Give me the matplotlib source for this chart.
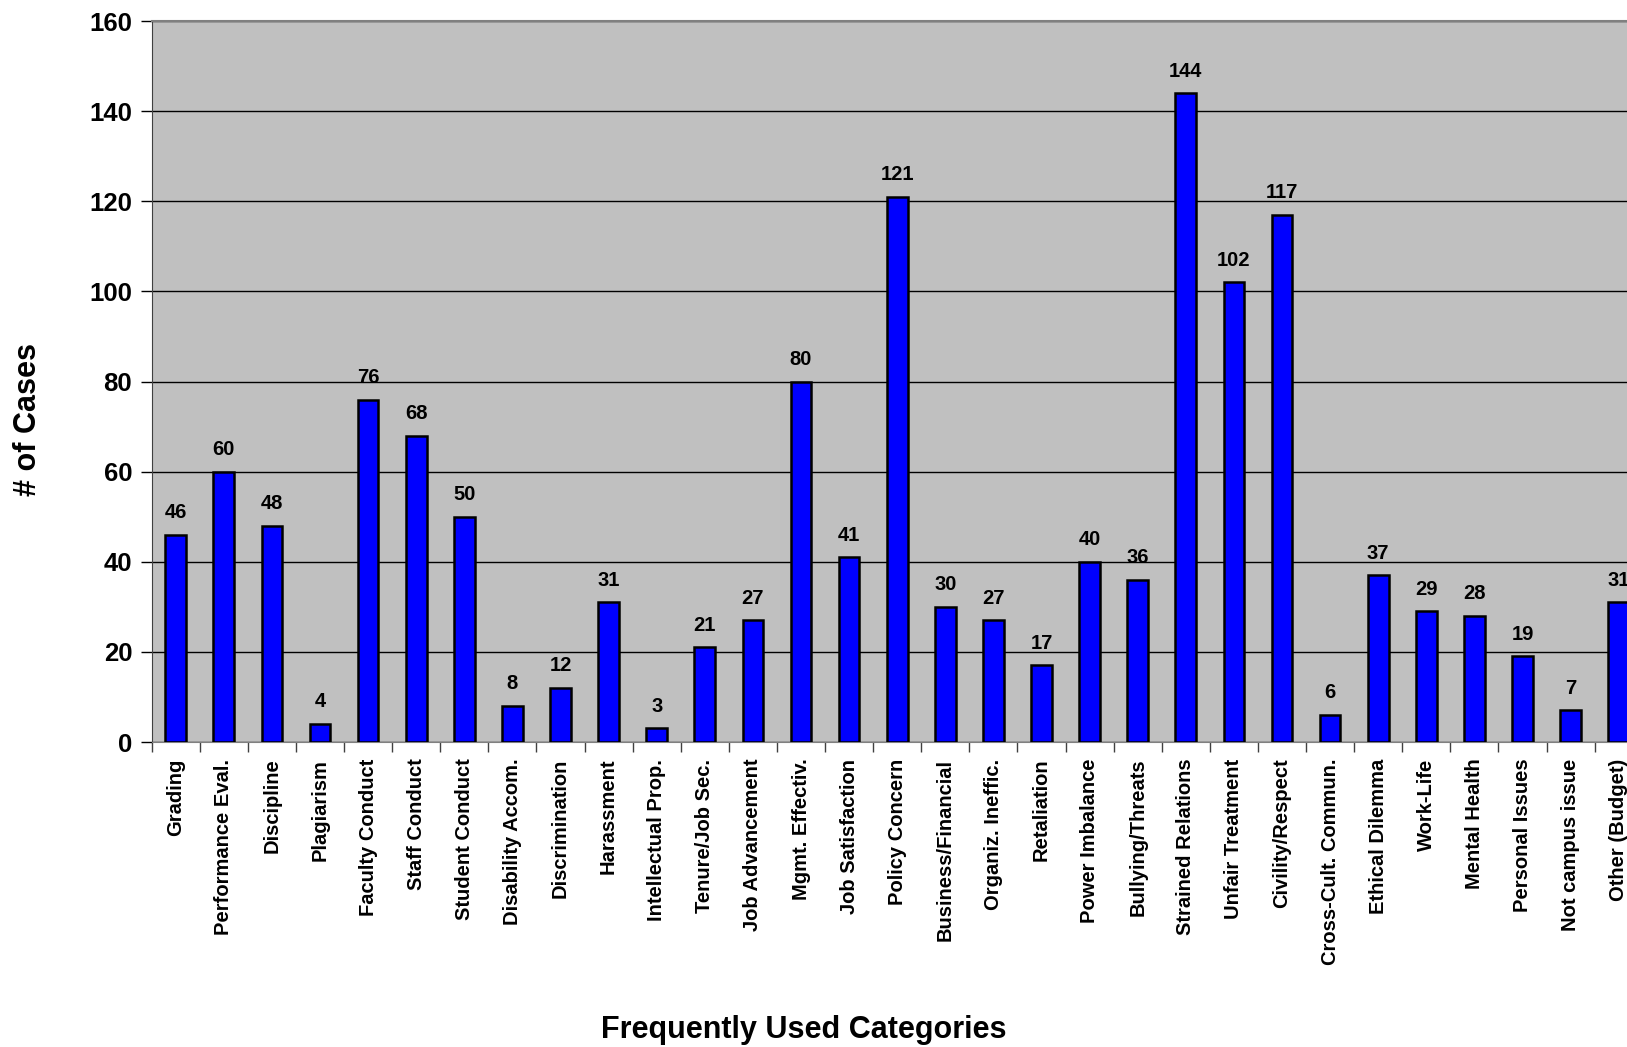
import numpy as np
import matplotlib
matplotlib.use("Agg")
import matplotlib.pyplot as plt

# Case counts per category
categories = ["Grading", "Performance Eval.", "Discipline", "Plagiarism", "Faculty Conduct",
              "Staff Conduct", "Student Conduct", "Disability Accom.", "Discrimination",
              "Harassment", "Intellectual Prop.", "Tenure/Job Sec.", "Job Advancement",
              "Mgmt. Effectiv.", "Job Satisfaction", "Policy Concern", "Business/Financial",
              "Organiz. Ineffic.", "Retaliation", "Power Imbalance", "Bullying/Threats",
              "Strained Relations", "Unfair Treatment", "Civility/Respect", "Cross-Cult. Commun.",
              "Ethical Dilemma", "Work-Life", "Mental Health", "Personal Issues",
              "Not campus issue", "Other (Budget)"]
cases = [46, 60, 48, 4, 76, 68, 50, 8, 12, 31, 3, 21, 27, 80, 41, 121, 30, 27, 17,
         40, 36, 144, 102, 117, 6, 37, 29, 28, 19, 7, 31]
y_ticks = [0, 20, 40, 60, 80, 100, 120, 140, 160]

plt.rcParams['font.family'] = ['Liberation Sans', 'DejaVu Sans']
plt.rcParams['font.weight'] = 'bold'

fig = plt.figure(figsize=(16.27, 10.47), dpi=100)
# the plot area runs a little past the right edge of the figure
ax = fig.add_axes([0.0932, 0.2913, 0.9165, 0.6886])
ax.set_facecolor('#C0C0C0')

x = np.arange(len(categories))
ax.bar(x, cases, width=0.43, color='#0000FF', edgecolor='black', linewidth=1.8, zorder=3)

for xi, v in zip(x, cases):
    ax.annotate(str(v), (xi, v), xytext=(0, 9), textcoords='offset points',
                ha='center', va='bottom', fontsize=14.5, fontweight='bold')

ax.set_xlim(-0.5, len(categories) - 0.5)
ax.set_ylim(0, 160)
ax.set_yticks(y_ticks)
ax.set_yticklabels([str(t) for t in y_ticks], fontsize=18.5, fontweight='bold')
ax.yaxis.grid(True, color='black', linewidth=1.0, zorder=0)
ax.set_axisbelow(True)

# tick marks between categories, labels centred under bars
ax.set_xticks(np.arange(len(categories) + 1) - 0.5)
ax.set_xticklabels([])
ax.set_xticks(x, minor=True)
ax.set_xticklabels(categories, minor=True, rotation=90, fontsize=14.5, fontweight='bold',
                   va='top', ha='center')
ax.tick_params(axis='x', which='minor', length=0, pad=12)
ax.tick_params(axis='x', which='major', length=7, width=1, color='#404040', direction='out')
ax.tick_params(axis='y', length=8, width=1, direction='out', pad=6)

ax.spines['top'].set_color('#808080')
ax.spines['top'].set_linewidth(1.5)
ax.spines['right'].set_visible(False)
ax.spines['left'].set_color('#404040')
ax.spines['bottom'].set_color('#808080')

fig.text(0.494, 0.016, 'Frequently Used Categories', ha='center', va='center',
         fontsize=22, fontweight='bold')
fig.text(0.017, 0.599, '# of Cases', rotation=90, ha='center', va='center',
         fontsize=22, fontweight='bold')

fig.savefig('out.png', dpi=100)
